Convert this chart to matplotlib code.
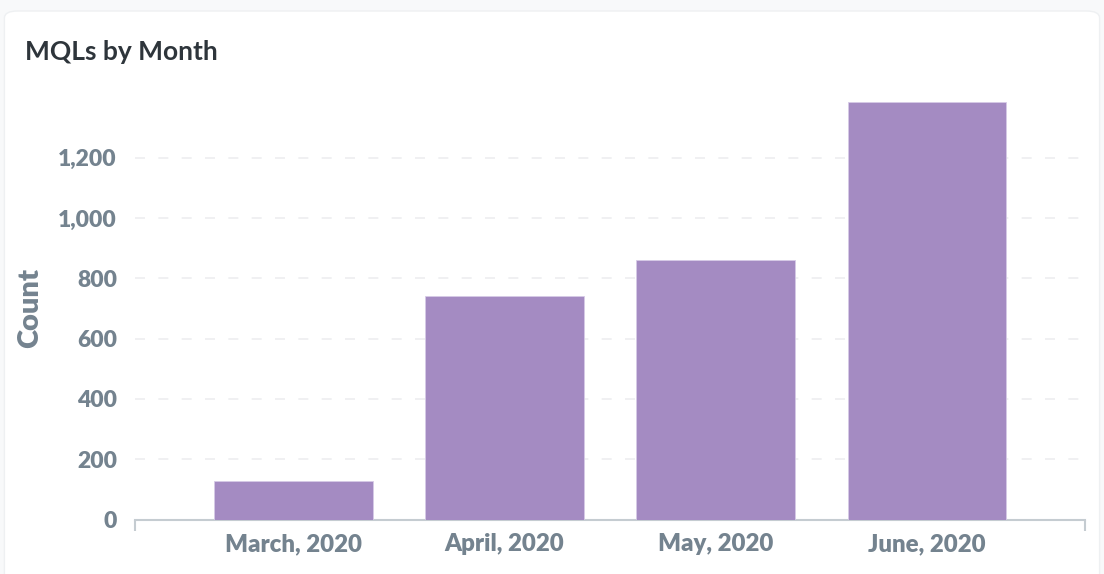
import matplotlib.pyplot as plt
from matplotlib.patches import FancyBboxPatch
from matplotlib.ticker import FuncFormatter

months = ['March, 2020', 'April, 2020', 'May, 2020', 'June, 2020']
counts = [127, 742, 862, 1384]
y_ticks = [0, 200, 400, 600, 800, 1000, 1200]

bar_color = '#A48BC2'
text_gray = '#74838F'

plt.rcParams['font.family'] = ['Lato', 'DejaVu Sans']
plt.rcParams['font.weight'] = 'heavy'

fig = plt.figure(figsize=(11.04, 5.74), dpi=100)
fig.patch.set_facecolor('#F8F9FA')
# white card with rounded corners below the grey strip
card = FancyBboxPatch((0.004, -0.05), 0.992, 1.05 - 11 / 574,
                      boxstyle='round,pad=0,rounding_size=0.012',
                      transform=fig.transFigure, facecolor='white',
                      edgecolor='#EEF0F2', linewidth=1, zorder=-1)
fig.patches.append(card)

ax = fig.add_axes([135 / 1104, 54.5 / 574, 950 / 1104, 422 / 574])
ax.set_facecolor('none')

x = range(len(months))
ax.bar(x, counts, width=0.75, color=bar_color, edgecolor='#D6CBE6',
       linewidth=0.6, zorder=3)

ax.set_xlim(-0.75, 3.75)
ax.set_ylim(0, 1400)
ax.set_yticks(y_ticks)
ax.yaxis.set_major_formatter(FuncFormatter(lambda v, p: f'{int(v):,}'))
ax.set_xticks(list(x))
ax.set_xticklabels(months)
ax.set_xticks([-0.75, 3.75], minor=True)

ax.grid(axis='y', color='#EDEEF0', linestyle=(0, (6, 8)), linewidth=1.2, zorder=0)
ax.set_axisbelow(True)

for side in ['top', 'right', 'left']:
    ax.spines[side].set_visible(False)
ax.spines['bottom'].set_color('#C5CCD1')
ax.spines['bottom'].set_linewidth(1.5)

ax.tick_params(axis='y', length=0, pad=13, labelsize=16.5, labelcolor=text_gray)
ax.tick_params(axis='x', which='major', length=0, pad=10, labelsize=17.3,
               labelcolor=text_gray)
ax.tick_params(axis='x', which='minor', length=8, width=1.5, color='#C5CCD1')

ax.set_ylabel('Count', fontsize=21, fontweight='heavy', color=text_gray)
ax.yaxis.set_label_coords(-92 / 950, 0.5)

fig.text(25 / 1104, 1 - 60 / 574, 'MQLs by Month', fontsize=19,
         fontweight='bold', color='#2E353B', ha='left', va='baseline')

fig.savefig('out.png', dpi=100, facecolor=fig.get_facecolor())
